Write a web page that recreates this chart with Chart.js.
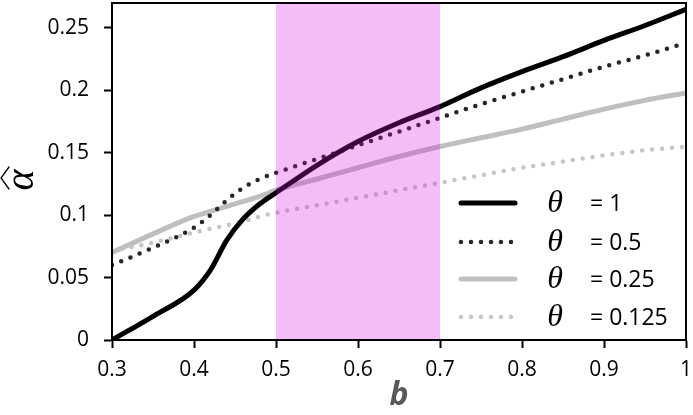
<!DOCTYPE html>
<html>
<head>
<meta charset="utf-8">
<script src="https://cdn.jsdelivr.net/npm/chart.js@4"></script>
<style>
  html, body { margin: 0; padding: 0; background: #fff; }
  #wrap { width: 693px; height: 415px; }
</style>
</head>
<body>
<div id="wrap"><canvas id="alphaChart"></canvas></div>
<script>
// Données
const bValues = [0.30, 0.35, 0.40, 0.42, 0.44, 0.46, 0.48, 0.50, 0.55, 0.60, 0.65, 0.70, 0.75, 0.80, 0.85, 0.90, 0.95, 1.00];
const alphaTheta1 = [0.000, 0.019, 0.040, 0.056, 0.080, 0.097, 0.109, 0.118, 0.140, 0.159, 0.174, 0.187, 0.202, 0.215, 0.227, 0.240, 0.252, 0.265];
const alphaTheta05 = [0.060, 0.074, 0.090, 0.100, 0.112, 0.122, 0.129, 0.134, 0.145, 0.156, 0.167, 0.178, 0.189, 0.199, 0.209, 0.219, 0.228, 0.238];
const alphaTheta025 = [0.070, 0.085, 0.099, 0.103, 0.107, 0.111, 0.115, 0.120, 0.129, 0.138, 0.147, 0.155, 0.162, 0.169, 0.177, 0.185, 0.192, 0.198];
const alphaTheta0125 = [0.071, 0.078, 0.086, 0.089, 0.092, 0.095, 0.099, 0.102, 0.108, 0.114, 0.120, 0.126, 0.132, 0.138, 0.143, 0.148, 0.152, 0.155];
const thetaLabels = ['1', '0.5', '0.25', '0.125'];
const xTicks = [0.3, 0.4, 0.5, 0.6, 0.7, 0.8, 0.9, 1];
const yTicks = [0, 0.05, 0.1, 0.15, 0.2, 0.25];
const bandRange = [0.5, 0.7];

function toPoints(values) {
  return values.map((v, i) => ({ x: bValues[i], y: v }));
}

const seriesStyles = [
  { color: '#000000', width: 5, dash: [] },
  { color: '#262626', width: 4.5, dash: [0, 10] },
  { color: '#bfbfbf', width: 5, dash: [] },
  { color: '#c6c6c6', width: 4.5, dash: [0, 10] }
];
const seriesValues = [alphaTheta1, alphaTheta05, alphaTheta025, alphaTheta0125];

function noPadding(scale) {
  scale.paddingLeft = 0;
  scale.paddingRight = 0;
  scale.paddingTop = 0;
  scale.paddingBottom = 0;
}

// Bande rose + cadre + légende
const decorPlugin = {
  id: 'decor',
  afterDatasetsDraw(chart) {
    const { ctx, chartArea, scales } = chart;
    const x0 = scales.x.getPixelForValue(bandRange[0]);
    const x1 = scales.x.getPixelForValue(bandRange[1]);
    ctx.save();
    ctx.fillStyle = 'rgba(218, 10, 228, 0.27)';
    ctx.fillRect(x0, chartArea.top, x1 - x0, chartArea.bottom - chartArea.top);
    ctx.restore();
  },
  afterDraw(chart) {
    const { ctx, chartArea } = chart;
    ctx.save();
    // cadre
    ctx.strokeStyle = '#000';
    ctx.lineWidth = 2;
    ctx.strokeRect(chartArea.left, chartArea.top, chartArea.right - chartArea.left, chartArea.bottom - chartArea.top);

    // légende
    ctx.fillStyle = '#fff';
    ctx.fillRect(chartArea.right - 236, chartArea.bottom - 153, 234, 151);
    const rowY = [203, 242, 279, 317];
    chart.data.datasets.forEach((ds, i) => {
      const y = rowY[i];
      ctx.strokeStyle = ds.borderColor;
      ctx.lineWidth = ds.borderWidth;
      ctx.lineCap = 'round';
      ctx.setLineDash(ds.borderDash);
      ctx.beginPath();
      ctx.moveTo(461, y);
      ctx.lineTo(515, y);
      ctx.stroke();
      ctx.setLineDash([]);
      ctx.fillStyle = '#000';
      ctx.textBaseline = 'middle';
      ctx.textAlign = 'center';
      ctx.font = 'italic 32px "Liberation Serif"';
      ctx.fillText('\u03B8', 555, y + 1);
      ctx.textAlign = 'left';
      ctx.font = '23px "Open Sans"';
      ctx.fillText('= ' + thetaLabels[i], 590, y + 1);
    });

    // titres des axes
    ctx.fillStyle = '#595959';
    ctx.font = 'italic bold 32px "Open Sans"';
    ctx.textAlign = 'center';
    ctx.textBaseline = 'middle';
    ctx.fillText('b', (chartArea.left + chartArea.right) / 2, 396);

    ctx.translate(22, 180);
    ctx.rotate(-Math.PI / 2);
    ctx.fillStyle = '#000';
    ctx.font = 'italic 40px "Liberation Serif"';
    ctx.fillText('\u03B1', 0, 0);
    // chapeau
    ctx.strokeStyle = '#000';
    ctx.lineWidth = 1.3;
    ctx.beginPath();
    ctx.moveTo(-9, -13);
    ctx.lineTo(2, -21);
    ctx.lineTo(13, -13);
    ctx.stroke();
    ctx.restore();
  }
};

const ctx = document.getElementById('alphaChart');
new Chart(ctx, {
  type: 'line',
  data: {
    datasets: seriesValues.map((vals, i) => ({
      label: '\u03B8 = ' + thetaLabels[i],
      data: toPoints(vals),
      borderColor: seriesStyles[i].color,
      borderWidth: seriesStyles[i].width,
      borderDash: seriesStyles[i].dash,
      borderCapStyle: 'round',
      pointRadius: 0,
      cubicInterpolationMode: 'monotone',
      fill: false,
      order: i
    }))
  },
  options: {
    responsive: true,
    maintainAspectRatio: false,
    animation: false,
    layout: { padding: { top: 3, right: 7, left: 0, bottom: 0 } },
    plugins: {
      legend: { display: false },
      tooltip: { enabled: false }
    },
    scales: {
      x: {
        type: 'linear',
        min: 0.3,
        max: 1,
        afterBuildTicks: (scale) => { scale.ticks = xTicks.map(v => ({ value: v })); },
        afterFit: (scale) => { scale.height = 75; noPadding(scale); },
        grid: { drawOnChartArea: false, drawTicks: true, tickLength: 8, tickColor: '#000', tickWidth: 2 },
        border: { color: '#000', width: 2 },
        ticks: {
          color: '#000',
          padding: 9,
          maxRotation: 0,
          font: { family: 'Open Sans', size: 21 },
          callback: (v) => String(+v.toFixed(2))
        }
      },
      y: {
        min: 0,
        max: 0.27,
        afterBuildTicks: (scale) => { scale.ticks = yTicks.map(v => ({ value: v })); },
        afterFit: (scale) => { scale.width = 112; noPadding(scale); },
        grid: { drawOnChartArea: false, drawTicks: true, tickLength: 8, tickColor: '#000', tickWidth: 2 },
        border: { color: '#000', width: 2 },
        ticks: {
          color: '#000',
          padding: 15,
          font: { family: 'Open Sans', size: 21 },
          callback: (v) => String(+v.toFixed(2))
        }
      }
    }
  },
  plugins: [decorPlugin]
});
</script>
</body>
</html>
